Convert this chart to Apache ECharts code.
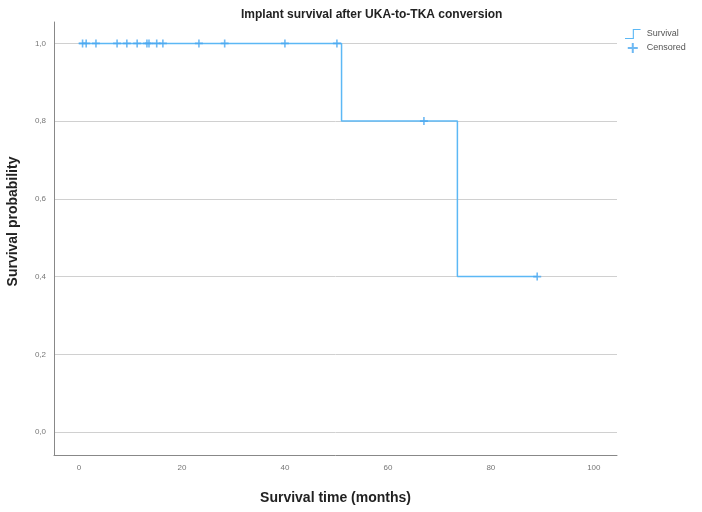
<!DOCTYPE html>
<html><head><meta charset="utf-8">
<script src="https://cdn.jsdelivr.net/npm/echarts@6/dist/echarts.min.js"></script>
<style>html,body{margin:0;padding:0;background:#fff}#c{width:702px;height:512px}</style>
</head><body><div id="c"></div>
<script>
// Kaplan-Meier step points (time in months, survival probability)
var survTimes = [0, 51, 73.5, 89];
var survProbs = [1.0, 0.8, 0.4, 0.4];
// Censored observations
var censTimes = [0.7, 1.4, 3.3, 7.4, 9.3, 11.3, 13.2, 13.6, 15.1, 16.3, 23.3, 28.3, 40, 50.1, 67, 89];
var censProbs = [1, 1, 1, 1, 1, 1, 1, 1, 1, 1, 1, 1, 1, 1, 0.8, 0.4];
var xTicks = [0, 20, 40, 60, 80, 100];
var yTicks = [0, 0.2, 0.4, 0.6, 0.8, 1.0];

var plusPath = 'path://M4,0L6,0L6,4L10,4L10,6L6,6L6,10L4,10L4,6L0,6L0,4L4,4Z';
var stepPath = 'path://M0,9L7,9L7,1L14,1L14,2L8,2L8,10L0,10Z';

var chart = echarts.init(document.getElementById('c'));
chart.setOption({
  animation: false,
  title: {
    text: 'Implant survival after UKA-to-TKA conversion',
    left: 236, top: 4,
    textStyle: {fontFamily: 'Liberation Sans', fontWeight: 'bold', fontSize: 12, color: '#222'}
  },
  legend: {
    left: 620, top: 24, orient: 'vertical', itemGap: 4, itemWidth: 18, itemHeight: 10,
    textStyle: {fontFamily: 'Liberation Sans', fontSize: 9, color: '#555'},
    data: [
      {name: 'Survival', icon: stepPath, itemStyle: {color: '#5cb8f5'}},
      {name: 'Censored', icon: plusPath, itemStyle: {color: '#4aa8f0'}}
    ]
  },
  grid: {left: 54, right: 85, top: 22, bottom: 57, containLabel: false, outerBoundsMode: 'none'},
  xAxis: {
    type: 'value', min: -4.85, max: 104.5,
    axisLine: {show: true, onZero: false, lineStyle: {color: '#888', width: 1}},
    axisTick: {show: false, customValues: xTicks},
    splitLine: {show: false},
    axisLabel: {customValues: xTicks, fontFamily: 'Liberation Sans', fontSize: 8, color: '#777', margin: 9,
      formatter: function (v) { return String(v); }},
    name: 'Survival time (months)', nameLocation: 'middle', nameGap: 36,
    nameTextStyle: {fontFamily: 'Liberation Sans', fontWeight: 'bold', fontSize: 14, color: '#222'}
  },
  yAxis: {
    type: 'value', min: -0.059, max: 1.055,
    axisLine: {show: true, onZero: false, lineStyle: {color: '#888', width: 1}},
    axisTick: {show: false, customValues: yTicks},
    splitLine: {show: true, lineStyle: {color: '#d0d0d0', width: 1}},
    axisLabel: {customValues: yTicks, fontFamily: 'Liberation Sans', fontSize: 8, color: '#777', margin: 8,
      formatter: function (v) { return v.toFixed(1).replace('.', ','); }},
    name: 'Survival probability', nameLocation: 'middle', nameGap: 34,
    nameTextStyle: {fontFamily: 'Liberation Sans', fontWeight: 'bold', fontSize: 14, color: '#222', padding: [0, 0, 0, 34]}
  },
  series: [
    {
      name: 'Survival', type: 'line', step: 'end', symbol: 'none',
      lineStyle: {color: '#5cb8f5', width: 1.5},
      itemStyle: {color: '#5cb8f5'},
      data: survTimes.map(function (t, i) { return [t, survProbs[i]]; }),
      z: 2
    },
    {
      name: 'Censored', type: 'scatter', symbol: plusPath, symbolSize: 8,
      itemStyle: {color: '#4aa8f0'},
      data: censTimes.map(function (t, i) { return [t, censProbs[i]]; }),
      z: 3
    }
  ]
});
</script></body></html>
